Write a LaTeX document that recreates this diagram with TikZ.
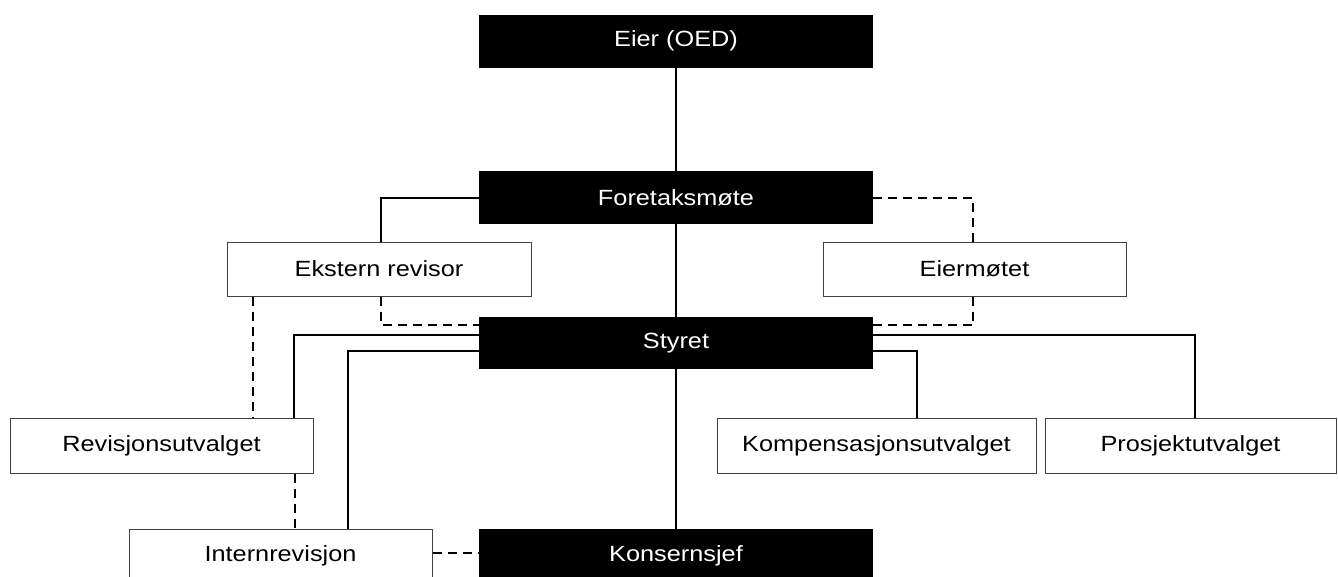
\documentclass[tikz,border=0pt]{standalone}
\usepackage{fontspec}
\setmainfont{Liberation Sans}[FakeStretch=1.15]
\usetikzlibrary{calc}
\begin{document}
\begin{tikzpicture}
      [x=1pt, y=-1pt,
      every node/.style={font=\fontsize{22}{26}\selectfont, inner sep=0pt},
      blackbox/.style={fill=black, text=white, minimum width=394pt, minimum height=53pt},
      whitebox/.style={draw=black!75, line width=1pt, fill=white, minimum height=54pt},
      solidline/.style={line width=2pt},
      dashline/.style={line width=2pt, dash pattern=on 9pt off 6pt}]
      \useasboundingbox (0,0) rectangle (1338,576);
      % the main chain
      \node[blackbox] (eier) at (676,41) {Eier (OED)};
      \node[blackbox] (foretak) at (676,197.5) {Foretaksmøte};
      \node[blackbox, minimum height=52pt] (styret) at (676,343) {Styret};
      \node[blackbox, minimum height=54pt] (konsern) at (676,556) {Konsernsjef};
      % the other boxes
      \node[whitebox, minimum width=304pt] (ekstern) at (379,269) {Ekstern revisor};
      \node[whitebox, minimum width=303pt] (eiermote) at (974.5,269) {Eiermøtet};
      \node[whitebox, minimum width=303pt, minimum height=55pt] (revutv) at (161.5,445.5) {Revisjonsutvalget};
      \node[whitebox, minimum width=303pt] (intern) at (280.5,556) {Internrevisjon};
      \node[whitebox, minimum width=319pt, minimum height=55pt] (kompens) at (876.5,445.5) {Kompensasjonsutvalget};
      \node[whitebox, minimum width=291pt, minimum height=55pt] (prosjekt) at (1190.5,445.5) {Prosjektutvalget};
      % solid lines
      \draw[solidline] (eier.south) -- (foretak.north);
      \draw[solidline] (foretak.south) -- (styret.north);
      \draw[solidline] (styret.south) -- (konsern.north);
      \draw[solidline] (foretak.west) -| ($(ekstern.north)+(2,0)$);
      \draw[solidline] ($(styret.west)+(0,-8)$) -| ($(revutv.north east)+(-20,0)$);
      \draw[solidline] ($(styret.west)+(0,8)$) -| ($(intern.north east)+(-85,0)$);
      \draw[solidline] ($(styret.east)+(0,-8)$) -| ($(prosjekt.north)+(4,0)$);
      \draw[solidline] ($(styret.east)+(0,8)$) -| ($(kompens.north)+(40,0)$);
      % dashed lines
      \draw[dashline] (foretak.east) -| ($(eiermote.north)+(-1.5,0)$);
      \draw[dashline] ($(ekstern.south)+(2,0)$) |- ($(styret.west)+(0,-18)$);
      \draw[dashline] ($(eiermote.south)+(-1.5,0)$) |- ($(styret.east)+(0,-18)$);
      \draw[dashline] ($(ekstern.south west)+(26,0)$) coordinate (er1) -- (er1 |- revutv.north);
      \draw[dashline] ($(revutv.south east)+(-19,0)$) coordinate (ru1) -- (ru1 |- intern.north);
      \draw[dashline] ($(intern.east)+(0,-3)$) -- ($(konsern.west)+(0,-3)$);
\end{tikzpicture}
\end{document}
